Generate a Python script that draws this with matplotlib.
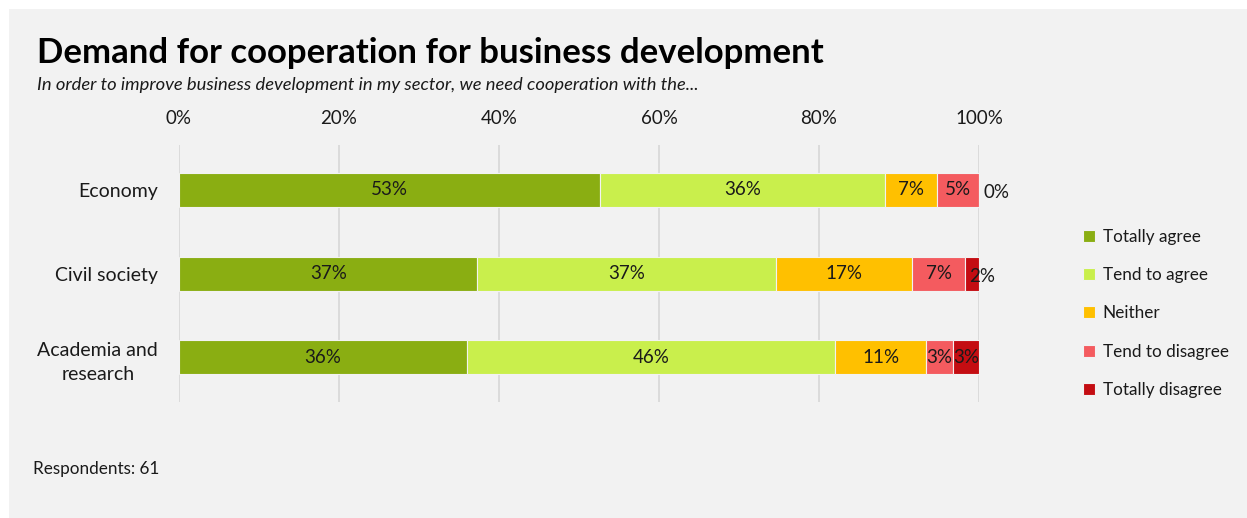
import numpy as np
import matplotlib.pyplot as plt
from matplotlib.patches import Rectangle

plt.rcParams['font.family'] = ['Lato', 'DejaVu Sans']

categories = ['Economy', 'Civil society', 'Academia and\nresearch']
answers = ['Totally agree', 'Tend to agree', 'Neither', 'Tend to disagree', 'Totally disagree']
colors = ['#8aae12', '#c9ef4c', '#ffc000', '#f45b5f', '#c40d12']

# share of respondents per answer, in percent
totally_agree = [52.6, 37.3, 36.0]
tend_agree = [35.6, 37.3, 46.0]
neither = [6.6, 17.0, 11.4]
tend_disagree = [5.2, 6.7, 3.3]
totally_disagree = [0.0, 1.7, 3.3]
series = [totally_agree, tend_agree, neither, tend_disagree, totally_disagree]

fig = plt.figure(figsize=(12.47, 5.18), dpi=100)
fig.patch.set_facecolor('white')
fig.add_artist(Rectangle((9 / 1247, 0), 1 - 9 / 1247, 1 - 9 / 518,
                         transform=fig.transFigure, facecolor='#f2f2f2',
                         edgecolor='none', zorder=-10))

ax = fig.add_axes([0.1435, 0.224, 0.6416, 0.496])
ax.set_facecolor('none')

y = np.arange(len(categories))
left = np.zeros(len(categories))
for name, vals, col in zip(answers, series, colors):
    vals = np.array(vals)
    ax.barh(y, vals, left=left, height=0.405, color=col, edgecolor='#f2f2f2',
            linewidth=0.8, label=name, zorder=3)
    for yi, l, v in zip(y, left, vals):
        if v < 3:
            ax.text(l + 0.5, yi + 0.03, f'{v:.0f}%', ha='left', va='center',
                    fontsize=13.5, color='#1a1a1a', zorder=4)
        else:
            ax.text(l + v / 2, yi, f'{v:.0f}%', ha='center', va='center',
                    fontsize=13.5, color='#1a1a1a', zorder=4)
    left += vals

ax.set_xlim(0, 100)
ax.set_ylim(2.53, -0.53)
ax.set_xticks(np.arange(0, 101, 20))
ax.set_xticklabels([f'{t}%' for t in range(0, 101, 20)])
ax.xaxis.tick_top()
ax.tick_params(axis='x', length=0, pad=13, labelsize=13.5, colors='#1a1a1a')
ax.set_yticks(y)
ax.set_yticklabels(categories, multialignment='center', linespacing=1.5)
ax.tick_params(axis='y', length=0, pad=15, labelsize=14, colors='#1a1a1a')
ax.grid(axis='x', color='#d9d9d9', linewidth=1.3, zorder=0)
for s in ax.spines.values():
    s.set_visible(False)

fig.legend(loc='upper left', bbox_to_anchor=(1083 / 1247, 1 - 229 / 518),
           frameon=False, fontsize=12.3, handlelength=0.7, handleheight=0.7,
           handletextpad=0.45, labelspacing=1.3, borderpad=0, borderaxespad=0,
           labelcolor='#1a1a1a')

fig.text(37 / 1247, 1 - 53 / 518, 'Demand for cooperation for business development',
         fontsize=25, fontweight='bold', va='center', ha='left', color='black')
fig.text(37 / 1247, 1 - 85 / 518,
         'In order to improve business development in my sector, we need cooperation with the...',
         fontsize=13.2, style='italic', va='center', ha='left', color='#1a1a1a')
fig.text(33 / 1247, 1 - 469 / 518, 'Respondents: 61', fontsize=12.3,
         va='center', ha='left', color='#1a1a1a')

fig.savefig('out.png', dpi=100, facecolor=fig.get_facecolor())
